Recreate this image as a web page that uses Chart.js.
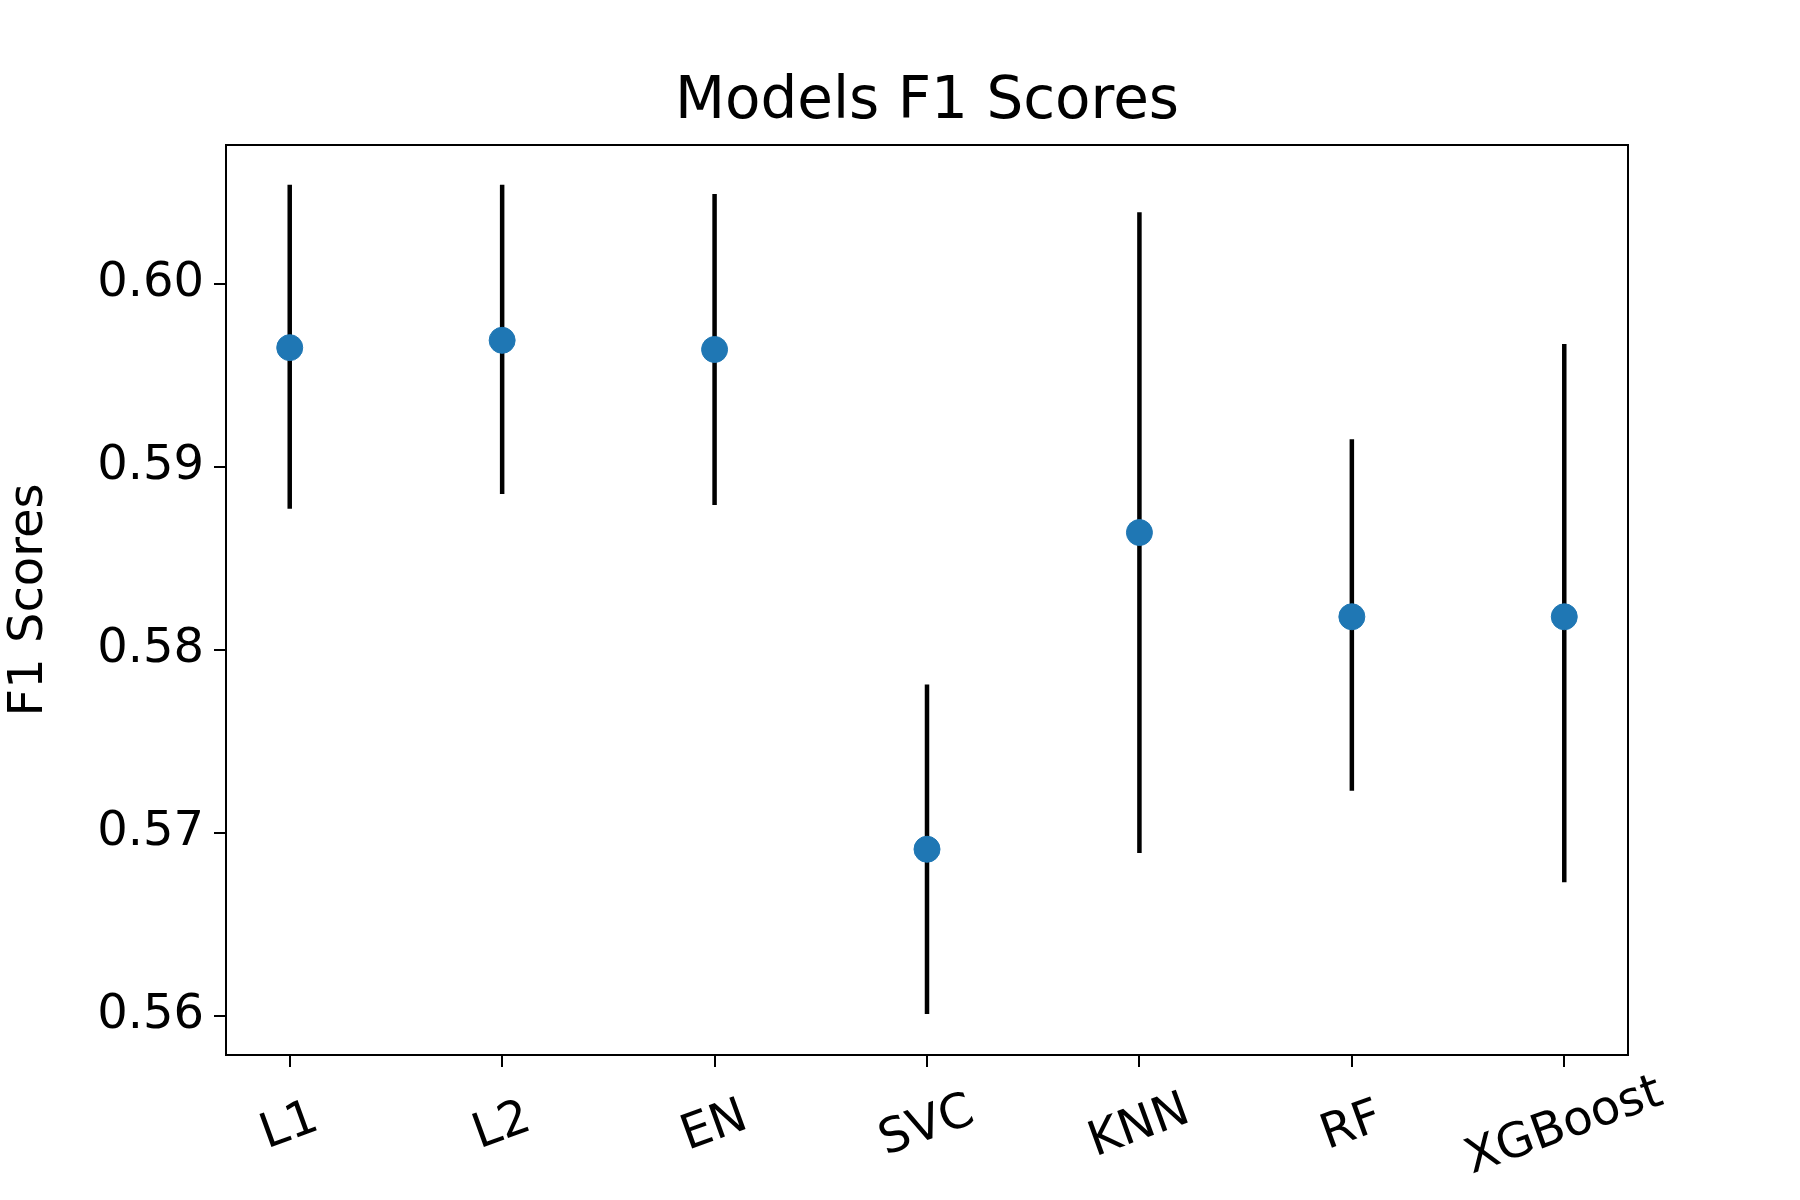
<!DOCTYPE html>
<html><head><meta charset="utf-8">
<script src="https://cdn.jsdelivr.net/npm/chart.js@4"></script>
<style>html,body{margin:0;background:#fff}#w{width:1800px;height:1200px}</style>
</head><body><div id="w"><canvas id="c"></canvas></div>
<script>
const models = ["L1","L2","EN","SVC","KNN","RF","XGBoost"];
const means = [0.5965,0.5969,0.5964,0.5691,0.5864,0.5818,0.5818];
const upper = [0.6054,0.6054,0.6049,0.5781,0.6039,0.5915,0.5967];
const lower = [0.5877,0.5885,0.5879,0.5601,0.5689,0.5723,0.5673];
const yTicks = [0.56,0.57,0.58,0.59,0.60];
const FONT = "DejaVu Sans";

const deco = {
  id:'deco',
  beforeDatasetsDraw(ch){
    const {ctx} = ch, x = ch.scales.x, y = ch.scales.y;
    ctx.save(); ctx.strokeStyle='#000'; ctx.lineWidth=4.5;
    models.forEach((m,i)=>{
      const px=x.getPixelForValue(i);
      ctx.beginPath(); ctx.moveTo(px,y.getPixelForValue(lower[i])); ctx.lineTo(px,y.getPixelForValue(upper[i])); ctx.stroke();
    });
    ctx.restore();
  },
  afterDraw(ch){
    const {ctx, chartArea:a} = ch, x = ch.scales.x;
    ctx.save();
    ctx.strokeStyle='#000'; ctx.lineWidth=2;
    ctx.strokeRect(a.left,a.top,a.right-a.left,a.bottom-a.top);
    ctx.fillStyle='#000';
    ctx.font=`58px "${FONT}"`; ctx.textAlign='center'; ctx.textBaseline='alphabetic';
    ctx.fillText("Models F1 Scores",(a.left+a.right)/2,118);
    ctx.save(); ctx.translate(30,(a.top+a.bottom)/2); ctx.rotate(-Math.PI/2);
    ctx.font=`48px "${FONT}"`; ctx.textBaseline='middle'; ctx.fillText("F1 Scores",0,0); ctx.restore();
    ctx.font=`48px "${FONT}"`; ctx.textBaseline='middle';
    models.forEach((m,i)=>{
      const px=x.getPixelForValue(i);
      ctx.save(); ctx.translate(px,a.bottom+72); ctx.rotate(-20*Math.PI/180);
      ctx.fillText(m,0,0); ctx.restore();
    });
    ctx.restore();
  }
};

new Chart(document.getElementById('c'),{
  type:'scatter',
  data:{datasets:[{data:means.map((v,i)=>({x:i,y:v})),backgroundColor:'#1f77b4',borderColor:'#1f77b4',pointRadius:13,pointHoverRadius:13}]},
  options:{
    responsive:true, maintainAspectRatio:false, animation:false,
    layout:{padding:{top:145,right:172,left:0,bottom:0}},
    plugins:{legend:{display:false},tooltip:{enabled:false}},
    scales:{
      x:{type:'linear',min:-0.3,max:6.3,
        afterBuildTicks(s){s.ticks=models.map((_,i)=>({value:i}));},
        afterFit(s){s.height=145;},
        ticks:{display:false},
        border:{display:false},
        grid:{drawOnChartArea:false,drawTicks:true,tickLength:12,color:'#000',lineWidth:2}},
      y:{min:0.55786,max:0.60757,
        afterBuildTicks(s){s.ticks=yTicks.map(v=>({value:v}));},
        afterFit(s){s.width=226;},
        ticks:{color:'#000',font:{family:FONT,size:48},padding:10,callback:v=>v.toFixed(2)},
        border:{display:false},
        grid:{drawOnChartArea:false,drawTicks:true,tickLength:12,color:'#000',lineWidth:2}}
    }
  },
  plugins:[deco]
});
</script></body></html>
